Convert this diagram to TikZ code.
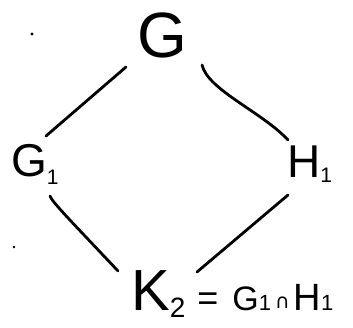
\documentclass[tikz,border=0pt]{standalone}
\usepackage{fontspec}
\setmainfont{Liberation Sans}
\newfontfamily\symfont{DejaVu Sans}
\usetikzlibrary{calc}
\newcommand{\fs}[1]{\fontsize{#1}{#1}\selectfont}
\begin{document}
\begin{tikzpicture}[x=1pt,y=-1pt,
  lbl/.style={inner sep=0pt, text=black},
  edge/.style={line width=2.8pt, line cap=round, black},
  speck/.style={fill=black, draw=none}]
\useasboundingbox[fill=white] (0,0) rectangle (353,328);
\node[lbl, anchor=base, font=\fs{64}] (G) at (162,58) {G};
\node[lbl, anchor=base west, font=\fs{46}] (G1) at (11,177) {G\raisebox{-8pt}{\fs{21}1}};
\node[lbl, anchor=base west, font=\fs{46}] (H1) at (287,178) {H\raisebox{-5pt}{\fs{21}1}};
\node[lbl, anchor=base west, font=\fs{36}] (K2) at (131,311)
  {{\fs{58}K}\raisebox{-6pt}{\fs{28}2}\hspace{12pt}=\hspace{14pt}{\fs{34}G}{\fs{22}1}\hspace{4pt}\raisebox{2pt}{\symfont\fs{20}∩}\hspace{4pt}{\fs{38}H}{\fs{22}1}};
\draw[edge] ($(G.base)+(-36,9)$) -- ($(G1.base west)+(35,-41)$);
\draw[edge] ($(G.base)+(40,7)$) .. controls ($(G.base)+(46,32)$) and ($(G.base)+(100,54)$) .. ($(H1.base west)+(1,-38)$);
\draw[edge] ($(G1.base west)+(39,19)$) .. controls ($(G1.base west)+(41,25)$) and ($(G1.base west)+(60,44)$) .. ($(K2.base west)+(-13,-40)$);
\draw[edge] ($(H1.base west)+(1,17)$) -- ($(K2.base west)+(66,-39)$);
\fill[speck] (32,34) circle (1.6pt);
\fill[speck] (14,247) circle (1.3pt);
\end{tikzpicture}
\end{document}
